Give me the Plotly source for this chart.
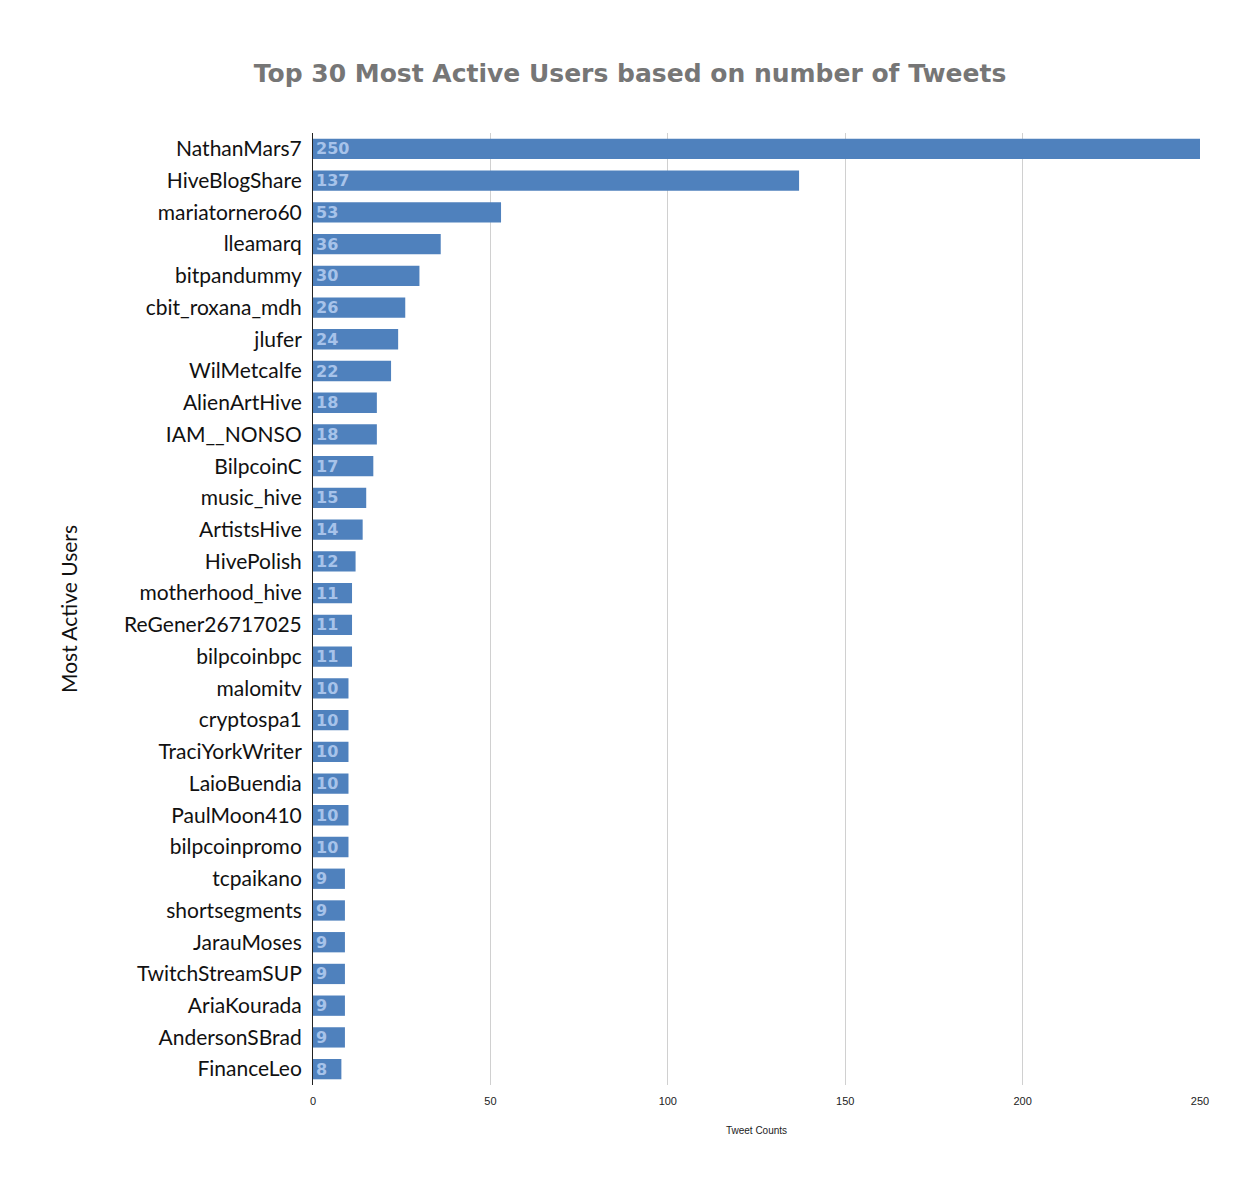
import plotly.graph_objects as go

users = ["NathanMars7", "HiveBlogShare", "mariatornero60", "lleamarq", "bitpandummy",
         "cbit_roxana_mdh", "jlufer", "WilMetcalfe", "AlienArtHive", "IAM__NONSO",
         "BilpcoinC", "music_hive", "ArtistsHive", "HivePolish", "motherhood_hive",
         "ReGener26717025", "bilpcoinbpc", "malomitv", "cryptospa1", "TraciYorkWriter",
         "LaioBuendia", "PaulMoon410", "bilpcoinpromo", "tcpaikano", "shortsegments",
         "JarauMoses", "TwitchStreamSUP", "AriaKourada", "AndersonSBrad", "FinanceLeo"]
tweet_counts = [250, 137, 53, 36, 30, 26, 24, 22, 18, 18,
                17, 15, 14, 12, 11, 11, 11, 10, 10, 10,
                10, 10, 10, 9, 9, 9, 9, 9, 9, 8]
x_ticks = [0, 50, 100, 150, 200, 250]

fig = go.Figure(go.Bar(
    x=tweet_counts, y=users, orientation="h",
    marker=dict(color="#4f81bd", line=dict(width=0)),
    width=0.64,
    text=[str(v) for v in tweet_counts],
    textposition="inside", insidetextanchor="start",
    textfont=dict(family="DejaVu Sans", size=16, color="#a7c3ea", weight="bold"),
    textangle=0,
))

# page is drawn with an 8px body offset, margins compensate for it
fig.update_layout(
    width=1260, height=1197,
    paper_bgcolor="white", plot_bgcolor="white",
    margin=dict(l=305, r=68, t=125, b=120),
    title=dict(text="<b>Top 30 Most Active Users based on number of Tweets</b>",
               x=0.4937, xanchor="center", y=0.9457, yanchor="middle",
               font=dict(family="DejaVu Sans", size=25, color="#767676")),
    showlegend=False,
    uniformtext=dict(minsize=16, mode="show"),
)
fig.update_xaxes(
    range=[0, 250], tickvals=x_ticks, ticktext=[str(t) for t in x_ticks],
    showgrid=True, gridcolor="#d0d0d0", gridwidth=1, zeroline=False,
    ticklabelstandoff=8,
    tickfont=dict(family="Liberation Sans", size=11, color="#222"),
    title=dict(text="Tweet Counts", font=dict(family="Liberation Sans", size=10, color="#222"), standoff=20),
    ticks="", showline=False,
)
fig.update_yaxes(
    autorange="reversed", showline=True, linecolor="#222", linewidth=1,
    ticks="", ticklabelstandoff=6,
    tickfont=dict(family="Lato, Noto Sans", size=21, color="#111"),
    title=dict(text="Most Active Users", font=dict(family="Lato, Noto Sans", size=21, color="#111"), standoff=40),
)

fig.write_html("out.html")
